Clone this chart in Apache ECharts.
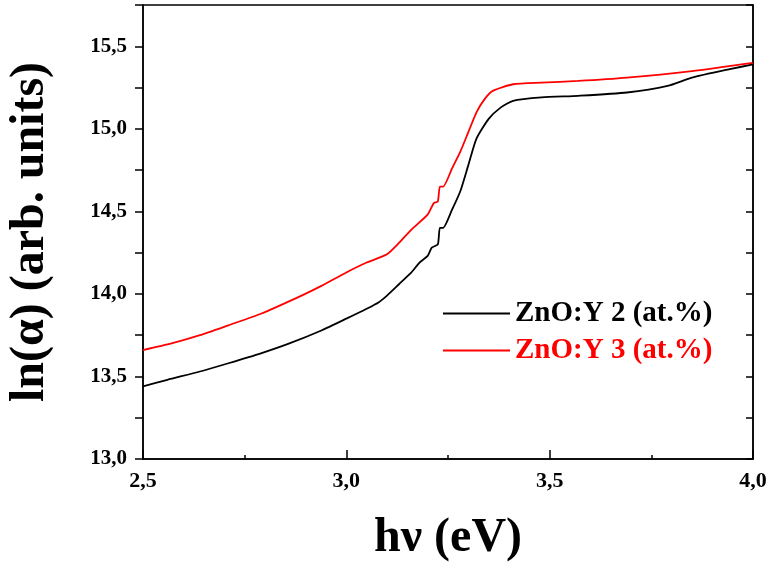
<!DOCTYPE html>
<html>
<head>
<meta charset="utf-8">
<script src="https://cdn.jsdelivr.net/npm/echarts@6/dist/echarts.min.js"></script>
<style>
  html, body { margin: 0; padding: 0; background: #fff; }
  #chart { width: 769px; height: 562px; }
</style>
</head>
<body>
<div id="chart"></div>
<script>
// ZnO:Y 2 (at.%)
var energyY2 = [2.50, 2.56, 2.64, 2.71, 2.79, 2.86, 2.94, 3.00, 3.05, 3.08, 3.10, 3.13, 3.16, 3.18, 3.20, 3.21, 3.225, 3.23, 3.238, 3.26, 3.28, 3.30, 3.32, 3.35, 3.38, 3.41, 3.48, 3.57, 3.69, 3.79, 3.85, 3.94, 4.00];
var lnAlphaY2 = [13.44, 13.48, 13.53, 13.58, 13.64, 13.70, 13.78, 13.85, 13.91, 13.95, 13.99, 14.06, 14.13, 14.19, 14.23, 14.28, 14.30, 14.40, 14.40, 14.51, 14.62, 14.78, 14.94, 15.06, 15.13, 15.17, 15.19, 15.20, 15.22, 15.26, 15.31, 15.36, 15.39];

// ZnO:Y 3 (at.%)
var energyY3 = [2.50, 2.57, 2.64, 2.71, 2.79, 2.89, 2.94, 3.00, 3.05, 3.10, 3.13, 3.16, 3.20, 3.215, 3.225, 3.23, 3.238, 3.26, 3.28, 3.30, 3.32, 3.34, 3.36, 3.41, 3.48, 3.57, 3.69, 3.85, 4.00];
var lnAlphaY3 = [13.66, 13.70, 13.75, 13.81, 13.88, 13.99, 14.05, 14.13, 14.19, 14.24, 14.31, 14.39, 14.48, 14.55, 14.56, 14.65, 14.65, 14.76, 14.86, 14.98, 15.10, 15.18, 15.23, 15.27, 15.28, 15.29, 15.31, 15.35, 15.40];

var seriesNames = ["ZnO:Y 2 (at.%)", "ZnO:Y 3 (at.%)"];
var seriesColors = ["#000000", "#ff0000"];

function pairs(xs, ys) {
	var out = [];
	for (var i = 0; i < xs.length; i++) out.push([xs[i], ys[i]]);
	return out;
}
function comma(v) {
	return v.toFixed(1).replace(".", ",");
}
function halfStep(v) {
	return Math.abs(v * 2 - Math.round(v * 2)) < 1e-6;
}

var font = "Liberation Serif";
var chart = echarts.init(document.getElementById("chart"));
chart.setOption({
	animation: false,
	grid: {
		left: 143, right: 16, top: 5, bottom: 103,
		outerBoundsMode: "none", containLabel: false,
		show: true, borderColor: "#000", borderWidth: 1.5, backgroundColor: "transparent"
	},
	legend: {
		orient: "vertical",
		left: 437,
		top: 294,
		itemWidth: 67,
		itemHeight: 14,
		itemGap: 8,
		itemStyle: { opacity: 0 },
		data: [
			{ name: seriesNames[0], textStyle: { color: seriesColors[0] } },
			{ name: seriesNames[1], textStyle: { color: seriesColors[1] } }
		],
		textStyle: { fontFamily: font, fontWeight: "bold", fontSize: 29 }
	},
	xAxis: {
		type: "value",
		min: 2.5, max: 4.0, interval: 0.5,
		name: "h\u03bd (eV)",
		nameLocation: "middle",
		nameGap: 56,
		nameTextStyle: { fontFamily: font, fontWeight: "bold", fontSize: 48, color: "#000" },
		axisLine: { lineStyle: { color: "#000", width: 1.5 } },
		axisTick: { inside: true, length: 9, lineStyle: { color: "#000", width: 1.5 } },
		minorTick: { show: true, splitNumber: 2, length: 4, lineStyle: { color: "#000", width: 1.5 } },
		splitLine: { show: false },
		axisLabel: { margin: 11, fontFamily: font, fontWeight: "bold", fontSize: 22, color: "#000", formatter: comma }
	},
	yAxis: [{
		type: "value",
		min: 13.0, max: 15.75, interval: 0.25,
		name: "ln(\u03b1) (arb. units)",
		nameLocation: "middle",
		nameGap: 88,
		nameTextStyle: { fontFamily: font, fontWeight: "bold", fontSize: 48, color: "#000" },
		axisLine: { lineStyle: { color: "#000", width: 1.5 } },
		axisTick: { inside: false, length: 8, lineStyle: { color: "#000", width: 1.5 } },
		splitLine: { show: false },
		axisLabel: {
			margin: 16, fontFamily: font, fontWeight: "bold", fontSize: 21, color: "#000",
			formatter: function (v) { return halfStep(v) && v < 15.7 ? comma(v) : ""; }
		}
	}, {
		type: "value",
		position: "right",
		min: 13.0, max: 15.75, interval: 0.25,
		axisLine: { show: true, lineStyle: { color: "#000", width: 1.5 } },
		axisTick: { inside: true, length: 7, lineStyle: { color: "#000", width: 1.5 } },
		axisLabel: { show: false },
		splitLine: { show: false }
	}],
	series: [{
		name: seriesNames[0],
		type: "line",
		symbol: "none",
		smooth: 0.2,
		data: pairs(energyY2, lnAlphaY2),
		lineStyle: { color: seriesColors[0], width: 1.8 },
		itemStyle: { color: seriesColors[0] }
	}, {
		name: seriesNames[1],
		type: "line",
		symbol: "none",
		smooth: 0.2,
		data: pairs(energyY3, lnAlphaY3),
		lineStyle: { color: seriesColors[1], width: 1.8 },
		itemStyle: { color: seriesColors[1] }
	}]
});
</script>
</body>
</html>
